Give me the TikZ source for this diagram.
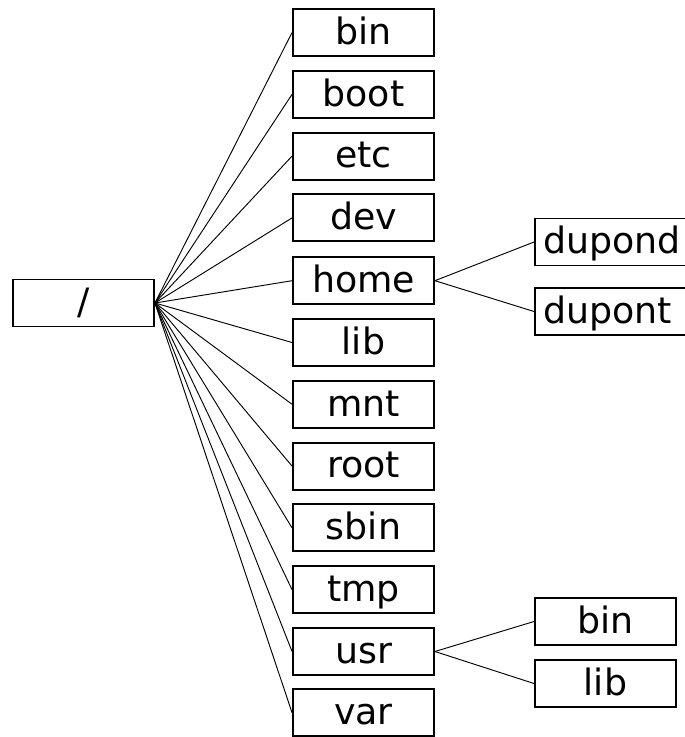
\documentclass[tikz,border=0pt]{standalone}
\usepackage{fontspec}
\setmainfont{DejaVu Sans}

\begin{document}
\begin{tikzpicture}[x=0.03cm,y=-0.03cm,
  dir/.style={draw,line width=1.6pt,minimum width=4.23cm,minimum height=1.41cm,
    inner xsep=0.25cm,inner ysep=0.08cm,text height=0.98cm,text depth=0.27cm,
    font=\fontsize{31}{36}\selectfont},
  wide/.style={text width=4.4cm,align=left},
  link/.style={line width=0.8pt}]

\useasboundingbox (0,0) rectangle (685,737);
\clip (0,0) rectangle (685,737);

\node[dir] (slash) at (83.5,303) {/};

\node[dir] (bin) at (363.5,32.5) {bin};
\node[dir] (boot) at (363.5,94.3) {boot};
\node[dir] (etc) at (363.5,156.1) {etc};
\node[dir] (dev) at (363.5,217.9) {dev};
\node[dir] (home) at (363.5,280.7) {home};
\node[dir] (lib) at (363.5,342.5) {lib};
\node[dir] (mnt) at (363.5,404.3) {mnt};
\node[dir] (root) at (363.5,466.1) {root};
\node[dir] (sbin) at (363.5,527.9) {sbin};
\node[dir] (tmp) at (363.5,589.7) {tmp};
\node[dir] (usr) at (363.5,651.5) {usr};
\node[dir] (var) at (363.5,712.8) {var};

\node[dir,wide,anchor=west] (dupond) at (534,242) {dupond};
\node[dir,wide,anchor=west] (dupont) at (534,311.5) {dupont};

\node[dir,anchor=west] (usrbin) at (534,621.5) {bin};
\node[dir,anchor=west] (usrlib) at (534,683.5) {lib};

\draw[link] (slash.east) -- (bin.west);
\draw[link] (slash.east) -- (boot.west);
\draw[link] (slash.east) -- (etc.west);
\draw[link] (slash.east) -- (dev.west);
\draw[link] (slash.east) -- (home.west);
\draw[link] (slash.east) -- (lib.west);
\draw[link] (slash.east) -- (mnt.west);
\draw[link] (slash.east) -- (root.west);
\draw[link] (slash.east) -- (sbin.west);
\draw[link] (slash.east) -- (tmp.west);
\draw[link] (slash.east) -- (usr.west);
\draw[link] (slash.east) -- (var.west);

\draw[link] (home.east) -- (dupond.west);
\draw[link] (home.east) -- (dupont.west);

\draw[link] (usr.east) -- (usrbin.west);
\draw[link] (usr.east) -- (usrlib.west);

\end{tikzpicture}
\end{document}
